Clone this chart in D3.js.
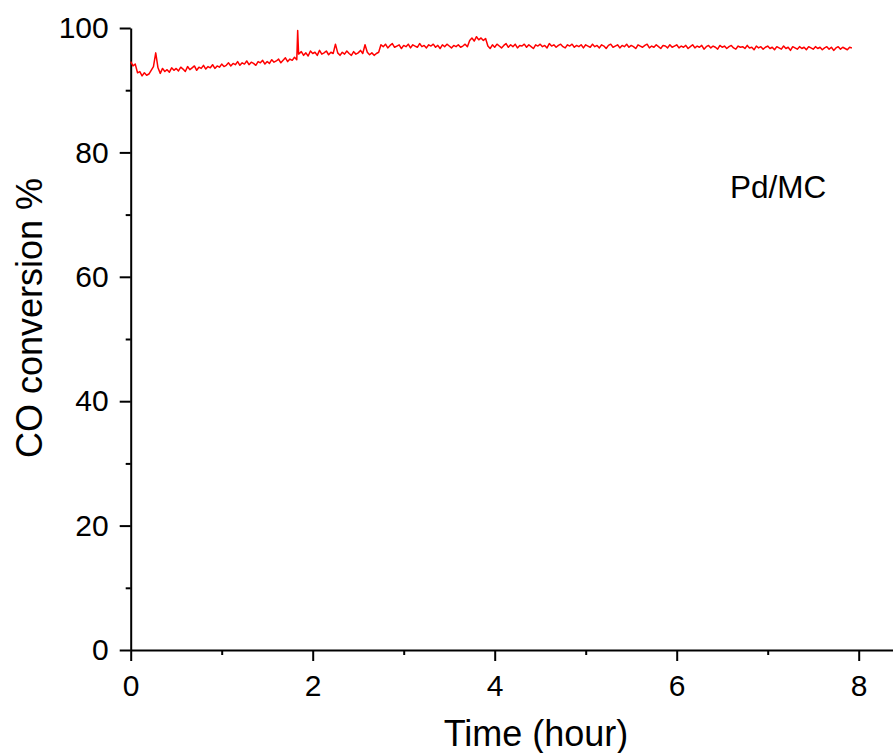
<!DOCTYPE html>
<html>
<head>
<meta charset="utf-8">
<script src="https://cdn.jsdelivr.net/npm/d3@7"></script>
<style>
  body { margin: 0; background: #fff; }
  svg { display: block; }
</style>
</head>
<body>
<script>
// time in hours
const timeHour = [
  0, 0.025, 0.05, 0.075, 0.1, 0.125, 0.15, 0.175, 0.2, 0.225, 0.25, 0.275, 0.3, 0.325, 0.35, 0.375, 0.4, 0.425, 0.45, 0.475,
  0.5, 0.525, 0.55, 0.575, 0.6, 0.625, 0.65, 0.675, 0.7, 0.725, 0.75, 0.775, 0.8, 0.825, 0.85, 0.875, 0.9, 0.925, 0.95, 0.975,
  1.0, 1.025, 1.05, 1.075, 1.1, 1.125, 1.15, 1.175, 1.2, 1.225, 1.25, 1.275, 1.3, 1.325, 1.35, 1.375, 1.4, 1.425, 1.45, 1.475,
  1.5, 1.525, 1.55, 1.575, 1.6, 1.625, 1.65, 1.675, 1.7, 1.725, 1.75, 1.775, 1.8, 1.825, 1.835, 1.845, 1.875, 1.9, 1.925, 1.95, 1.975,
  2.0, 2.025, 2.05, 2.075, 2.1, 2.125, 2.15, 2.175, 2.2, 2.225, 2.25, 2.275, 2.3, 2.325, 2.35, 2.375, 2.4, 2.425, 2.45, 2.475,
  2.5, 2.525, 2.55, 2.575, 2.6, 2.625, 2.65, 2.675, 2.7, 2.725, 2.75, 2.775, 2.8, 2.825, 2.85, 2.875, 2.9, 2.925, 2.95, 2.975,
  3.0, 3.025, 3.05, 3.075, 3.1, 3.125, 3.15, 3.175, 3.2, 3.225, 3.25, 3.275, 3.3, 3.325, 3.35, 3.375, 3.4, 3.425, 3.45, 3.475,
  3.5, 3.525, 3.55, 3.575, 3.6, 3.625, 3.65, 3.675, 3.7, 3.725, 3.75, 3.775, 3.8, 3.825, 3.85, 3.875, 3.9, 3.925, 3.95, 3.975,
  4.0, 4.025, 4.05, 4.075, 4.1, 4.125, 4.15, 4.175, 4.2, 4.225, 4.25, 4.275, 4.3, 4.325, 4.35, 4.375, 4.4, 4.425, 4.45, 4.475,
  4.5, 4.525, 4.55, 4.575, 4.6, 4.625, 4.65, 4.675, 4.7, 4.725, 4.75, 4.775, 4.8, 4.825, 4.85, 4.875, 4.9, 4.925, 4.95, 4.975,
  5.0, 5.025, 5.05, 5.075, 5.1, 5.125, 5.15, 5.175, 5.2, 5.225, 5.25, 5.275, 5.3, 5.325, 5.35, 5.375, 5.4, 5.425, 5.45, 5.475,
  5.5, 5.525, 5.55, 5.575, 5.6, 5.625, 5.65, 5.675, 5.7, 5.725, 5.75, 5.775, 5.8, 5.825, 5.85, 5.875, 5.9, 5.925, 5.95, 5.975,
  6.0, 6.025, 6.05, 6.075, 6.1, 6.125, 6.15, 6.175, 6.2, 6.225, 6.25, 6.275, 6.3, 6.325, 6.35, 6.375, 6.4, 6.425, 6.45, 6.475,
  6.5, 6.525, 6.55, 6.575, 6.6, 6.625, 6.65, 6.675, 6.7, 6.725, 6.75, 6.775, 6.8, 6.825, 6.85, 6.875, 6.9, 6.925, 6.95, 6.975,
  7.0, 7.025, 7.05, 7.075, 7.1, 7.125, 7.15, 7.175, 7.2, 7.225, 7.25, 7.275, 7.3, 7.325, 7.35, 7.375, 7.4, 7.425, 7.45, 7.475,
  7.5, 7.525, 7.55, 7.575, 7.6, 7.625, 7.65, 7.675, 7.7, 7.725, 7.75, 7.775, 7.8, 7.825, 7.85, 7.875, 7.9, 7.925
];

// CO conversion in %
const conversion = [
  94.6, 93.9, 94.2, 92.8, 93.0, 92.3, 92.8, 92.4, 92.6, 93.2, 93.8, 96.0, 93.6, 92.7, 93.5, 93.0, 93.3, 92.9, 93.6, 93.2,
  93.5, 93.1, 93.7, 93.4, 93.0, 93.8, 93.3, 93.6, 93.9, 93.2, 93.7, 93.5, 94.0, 93.4, 93.8, 93.6, 94.1, 93.5, 93.9, 93.7,
  94.2, 93.8, 94.0, 94.4, 93.9, 94.3, 94.1, 94.6, 94.0, 94.4, 94.2, 94.7, 94.1, 94.5, 94.3, 94.0, 94.6, 94.4, 94.8, 94.2,
  94.6, 94.3, 94.9, 94.5, 94.7, 95.0, 94.4, 94.8, 95.2, 94.6, 95.0, 94.8, 95.3, 94.9, 99.6, 95.8, 96.2, 95.6, 96.0, 95.5, 96.3,
  95.9, 96.1, 95.6, 96.4, 95.8, 96.0, 96.3, 95.7, 96.1, 95.9, 97.4, 96.0, 95.6, 96.1, 95.8, 96.3, 95.9, 95.6, 96.2, 95.8,
  96.0, 96.4, 95.9, 97.3, 96.1, 95.7, 96.0, 95.6, 95.9, 96.1, 97.3, 97.0, 97.4, 96.8, 97.2, 97.5, 96.9, 97.1, 97.3, 96.7,
  97.2, 97.0, 97.4, 96.8, 97.3, 97.1, 96.9, 97.5, 97.0, 97.2, 96.8, 97.3, 97.1, 97.4, 96.9, 97.2, 96.7, 97.3, 97.0, 97.4,
  97.1, 96.8, 97.2, 97.0, 97.3, 96.9, 97.1, 97.4, 97.0, 98.0, 98.4, 97.9, 98.6, 98.1, 98.4, 98.0, 98.3, 97.1, 96.7, 97.3,
  96.9, 97.4, 97.1, 96.8, 97.2, 97.5, 96.9, 97.3, 97.0, 97.4, 96.8, 97.2, 97.1, 97.4, 96.9, 97.3, 97.0, 96.7, 97.3, 97.1,
  97.4, 97.0, 97.2, 96.8, 97.5, 97.1, 97.3, 96.9, 97.2, 97.4, 97.0, 96.8, 97.3, 97.1, 97.4, 96.9, 97.2, 97.0, 97.3, 96.8,
  97.3, 97.1, 96.9, 97.4, 97.0, 97.2, 96.8, 97.3, 97.1, 96.7, 97.2, 97.4, 96.9, 97.1, 97.3, 96.8, 97.2, 97.0, 97.4, 96.9,
  97.2, 97.0, 96.7, 97.3, 97.1, 96.9, 97.2, 97.4, 96.8, 97.1, 96.9, 97.3, 97.0, 96.7, 97.2, 97.1, 96.8, 97.3, 96.9, 97.1,
  97.3, 96.8, 97.1, 96.9, 97.2, 96.7, 97.0, 97.3, 96.8, 97.1, 96.9, 97.2, 96.6, 97.0, 97.2, 96.8, 97.1, 96.9, 96.6, 97.2,
  96.9, 97.1, 96.7, 97.0, 97.2, 96.8, 96.6, 97.1, 96.9, 97.0, 96.7, 97.2, 96.8, 96.9, 96.5, 97.1, 96.8, 97.0, 96.6, 96.9,
  97.1, 96.7, 96.9, 96.5, 97.0, 96.8, 96.6, 97.1, 96.7, 96.9, 96.4, 97.0, 96.8, 96.6, 97.0, 96.7, 96.9, 96.5, 97.0, 96.8,
  96.6, 97.0, 96.7, 96.9, 96.5, 96.8, 97.0, 96.6, 96.9, 96.4, 96.8, 97.0, 96.6, 96.9, 96.7, 96.5, 96.9, 96.8
];

const xTicks = [0, 2, 4, 6, 8];
const xMinor = [1, 3, 5, 7];
const yTicks = [0, 20, 40, 60, 80, 100];
const yMinor = [10, 30, 50, 70, 90];

const points = timeHour.map((t, i) => ({ t: t, v: conversion[i] }));

const width = 893, height = 753;
const font = "'Liberation Sans', Arial, sans-serif";

const xScale = d3.scaleLinear().domain([0, 8.4]).range([130.7, 895.1]);
const yScale = d3.scaleLinear().domain([0, 100]).range([650, 28]);

const svg = d3.select('body').append('svg')
  .attr('width', width)
  .attr('height', height);

// x axis, major and minor ticks
svg.append('g')
  .attr('transform', `translate(0,${yScale(0)})`)
  .call(d3.axisBottom(xScale).tickValues(xTicks).tickSize(11).tickSizeOuter(0).tickPadding(14));
svg.append('g')
  .attr('transform', `translate(0,${yScale(0)})`)
  .call(d3.axisBottom(xScale).tickValues(xMinor).tickSize(5).tickFormat(''))
  .select('.domain').remove();

// y axis
svg.append('g')
  .attr('transform', `translate(${xScale(0)},0)`)
  .call(d3.axisLeft(yScale).tickValues(yTicks).tickSize(11).tickSizeOuter(0).tickPadding(11));
svg.append('g')
  .attr('transform', `translate(${xScale(0)},0)`)
  .call(d3.axisLeft(yScale).tickValues(yMinor).tickSize(5).tickFormat(''))
  .select('.domain').remove();

svg.selectAll('.tick line').attr('stroke', '#000').attr('stroke-width', 2);
svg.selectAll('.domain').attr('stroke', '#000').attr('stroke-width', 2);
svg.selectAll('.tick text')
  .attr('font-family', font)
  .attr('font-size', 30)
  .attr('fill', '#000');

// data line
const line = d3.line().x(d => xScale(d.t)).y(d => yScale(d.v));
svg.append('path')
  .datum(points)
  .attr('d', line)
  .attr('fill', 'none')
  .attr('stroke', '#ff0000')
  .attr('stroke-width', 1.5)
  .attr('stroke-linejoin', 'round');

// labels
svg.append('text')
  .text('Time (hour)')
  .attr('font-family', font)
  .attr('font-size', 36)
  .attr('text-anchor', 'middle')
  .attr('x', 536)
  .attr('y', 746);

svg.append('text')
  .text('CO conversion %')
  .attr('font-family', font)
  .attr('font-size', 36)
  .attr('text-anchor', 'middle')
  .attr('transform', 'translate(42,318) rotate(-90)');

svg.append('text')
  .text('Pd/MC')
  .attr('font-family', font)
  .attr('font-size', 31.5)
  .attr('x', 730)
  .attr('y', 198);
</script>
</body>
</html>
